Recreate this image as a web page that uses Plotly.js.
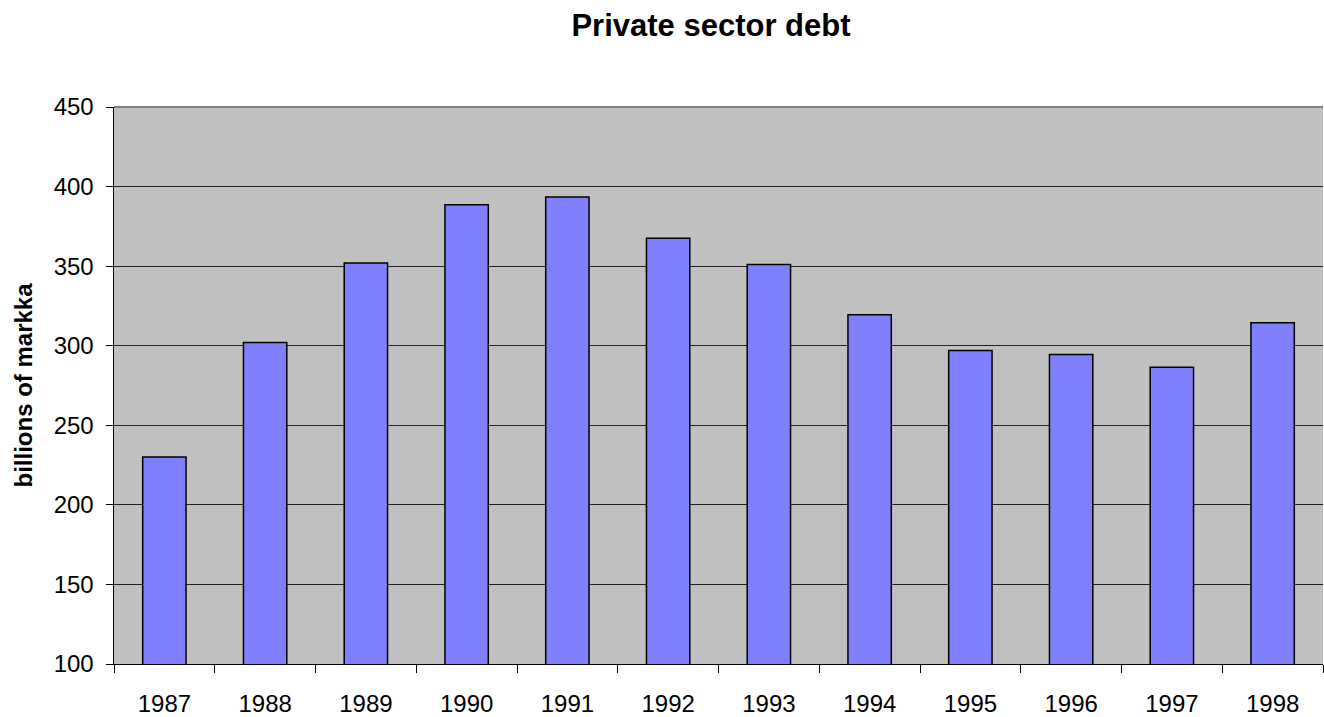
<!DOCTYPE html>
<html>
<head>
<meta charset="utf-8">
<script src="https://cdn.plot.ly/plotly-3.0.1.min.js"></script>
<style>html,body{margin:0;padding:0;background:#fff;}#chart{width:1324px;height:717px;}</style>
</head>
<body>
<div id="chart"></div>
<script>
const years = ["1987","1988","1989","1990","1991","1992","1993","1994","1995","1996","1997","1998"];
const debt = [230, 302, 352, 388.5, 393.5, 367.5, 351, 319.5, 297, 294.5, 286.5, 314.5];
const yTicks = [100,150,200,250,300,350,400,450];

const trace = {
  type: "bar",
  x: years,
  y: debt,
  width: 0.43,
  marker: {color: "#8080FF", line: {color: "#000000", width: 1.5}},
  hoverinfo: "x+y"
};

const layout = {
  width: 1324, height: 717,
  margin: {l: 114, r: 1, t: 107, b: 53},
  paper_bgcolor: "#ffffff",
  plot_bgcolor: "#C0C0C0",
  font: {family: "Arial, Liberation Sans, sans-serif", color: "#000", size: 24},
  title: {text: "<b>Private sector debt</b>", x: 711/1324, xanchor: "center", xref: "container", yref: "container", y: 1 - 25/717, yanchor: "middle", font: {size: 31, family: "Arial, Liberation Sans, sans-serif"}},
  showlegend: false,
  xaxis: {
    type: "category",
    tickson: "boundaries",
    ticks: "outside", ticklen: 8, tickcolor: "#000", tickwidth: 1,
    showline: true, linecolor: "#000", linewidth: 1,
    showgrid: false,
    tickfont: {size: 24},
    ticklabelstandoff: 18,
    fixedrange: true
  },
  yaxis: {
    range: [100, 450],
    tickvals: yTicks,
    ticktext: yTicks.map(String),
    ticks: "outside", ticklen: 7, tickcolor: "#000", tickwidth: 1,
    showline: true, linecolor: "#000", linewidth: 1.5,
    showgrid: true, gridcolor: "#222", gridwidth: 1,
    zeroline: false,
    tickfont: {size: 24},
    ticklabelstandoff: 7,
    title: {text: "<b>billions of markka</b>", font: {size: 24}, standoff: 14},
    fixedrange: true
  },
  shapes: [
    {type: "line", xref: "paper", yref: "paper", x0: 0, x1: 1, y0: 1, y1: 1, line: {color: "#808080", width: 2}}
  ]
};

Plotly.newPlot("chart", [trace], layout, {displayModeBar: false, staticPlot: true});
</script>
</body>
</html>
